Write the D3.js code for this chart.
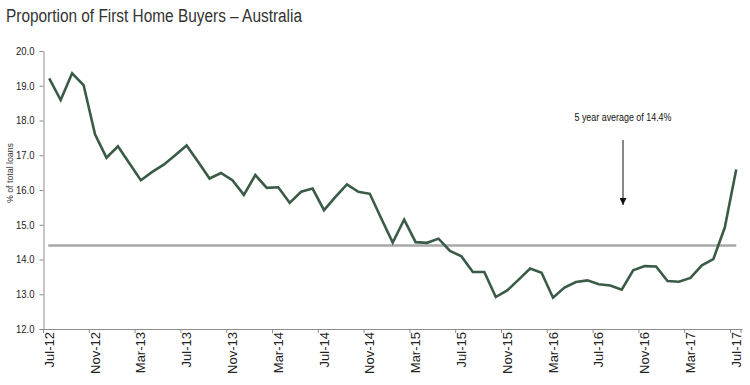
<!DOCTYPE html>
<html>
<head>
<meta charset="utf-8">
<script src="https://cdn.jsdelivr.net/npm/d3@7"></script>
<style>
  body { margin: 0; background: #fff; }
  svg { display: block; }
  text { font-family: "Liberation Sans", Arial, sans-serif; }
</style>
</head>
<body>
<div id="chart"></div>
<script>
const width = 750, height = 385;

// monthly, Jul-12 .. Jul-17
const months = d3.timeMonths(new Date(2012, 6, 1), new Date(2017, 7, 1));
const values = [
  19.21, 18.59, 19.36, 19.02, 17.60, 16.93, 17.26, 16.77, 16.28, 16.52,
  16.73, 17.00, 17.28, 16.81, 16.33, 16.49, 16.28, 15.86, 16.43, 16.06,
  16.08, 15.63, 15.95, 16.04, 15.42, 15.80, 16.16, 15.95, 15.89, 15.18,
  14.49, 15.15, 14.50, 14.48, 14.60, 14.25, 14.09, 13.64, 13.64, 12.92,
  13.11, 13.42, 13.74, 13.62, 12.90, 13.19, 13.35, 13.40, 13.29, 13.25,
  13.13, 13.69, 13.81, 13.80, 13.38, 13.36, 13.47, 13.83, 14.01, 14.92,
  16.59
];
const average = 14.4;
const yTicks = [12, 13, 14, 15, 16, 17, 18, 19, 20];
const fmtMonth = d3.timeFormat("%b-%y");
const labels = months.map(fmtMonth);
const tickLabels = labels.filter((d, i) => i % 4 === 0);

const margin = {top: 51, right: 8, bottom: 56, left: 43.5};

const svg = d3.select("#chart").append("svg")
    .attr("width", width)
    .attr("height", height);

// title (source font is condensed, squeeze to match)
svg.append("text")
    .attr("x", 6)
    .attr("y", 22)
    .attr("font-size", 18)
    .attr("fill", "#333")
    .attr("textLength", 296)
    .attr("lengthAdjust", "spacingAndGlyphs")
    .text("Proportion of First Home Buyers \u2013 Australia");

const x = d3.scaleBand()
    .domain(labels)
    .range([margin.left, margin.left + 11.45 * labels.length]);

const y = d3.scaleLinear()
    .domain([12, 20])
    .range([height - margin.bottom, margin.top]);

const g = svg.append("g");

// y axis
const yAxis = g.append("g")
    .attr("transform", `translate(${margin.left},0)`)
    .call(d3.axisLeft(y).tickValues(yTicks).tickFormat(d3.format(".1f")).tickSize(4).tickSizeOuter(0));
yAxis.select(".domain").attr("stroke", "#8c8c8c");
yAxis.selectAll(".tick line").attr("stroke", "#8c8c8c");
yAxis.selectAll(".tick text")
    .attr("fill", "#222")
    .attr("font-size", 10.5)
    .attr("x", -9)
    .attr("textLength", 18.5)
    .attr("lengthAdjust", "spacingAndGlyphs")
    .attr("font-family", null);

svg.append("text")
    .attr("transform", "translate(13,173) rotate(-90)")
    .attr("text-anchor", "middle")
    .attr("font-size", 9.5)
    .attr("fill", "#333")
    .attr("textLength", 60)
    .attr("lengthAdjust", "spacingAndGlyphs")
    .text("% of total loans");

// x axis
const xAxis = g.append("g")
    .attr("transform", `translate(0,${y(12)})`)
    .call(d3.axisBottom(x).tickValues(tickLabels).tickSize(0).tickSizeOuter(0));
xAxis.select(".domain").attr("stroke", "#8c8c8c");
xAxis.selectAll(".tick text")
    .attr("font-family", null)
    .attr("font-size", 13)
    .attr("fill", "#222")
    .attr("text-anchor", "end")
    .attr("transform", "rotate(-90)")
    .attr("x", -3)
    .attr("y", 0)
    .attr("dy", "0.35em");
xAxis.selectAll(".tick").append("line")
    .attr("x1", -x.bandwidth() / 2)
    .attr("x2", -x.bandwidth() / 2)
    .attr("y1", 0)
    .attr("y2", 4)
    .attr("stroke", "#8c8c8c");
xAxis.append("line")
    .attr("x1", x.range()[1] - 1)
    .attr("x2", x.range()[1] - 1)
    .attr("y1", 0)
    .attr("y2", 4)
    .attr("stroke", "#8c8c8c");

const cx = d => x(d) + x.bandwidth() / 2;

// average line
g.append("line")
    .attr("x1", cx(labels[0]) - 1)
    .attr("x2", cx(labels[labels.length - 1]))
    .attr("y1", y(average))
    .attr("y2", y(average))
    .attr("stroke", "#a8a8a8")
    .attr("stroke-width", 2.5);

// series
const line = d3.line()
    .x((d, i) => cx(labels[i]))
    .y(d => y(d));

g.append("path")
    .datum(values)
    .attr("fill", "none")
    .attr("stroke", "#3a5b45")
    .attr("stroke-width", 2.6)
    .attr("stroke-linejoin", "miter")
    .attr("d", line);

// annotation
const ax = 623;
svg.append("text")
    .attr("x", ax)
    .attr("y", 121)
    .attr("text-anchor", "middle")
    .attr("font-size", 10.5)
    .attr("fill", "#111")
    .attr("textLength", 97)
    .attr("lengthAdjust", "spacingAndGlyphs")
    .text("5 year average of 14.4%");

svg.append("defs").append("marker")
    .attr("id", "arrow")
    .attr("viewBox", "0 0 10 10")
    .attr("refX", 10)
    .attr("refY", 5)
    .attr("markerWidth", 7)
    .attr("markerHeight", 7)
    .attr("markerUnits", "userSpaceOnUse")
    .attr("orient", "auto")
    .append("path")
    .attr("d", "M0,0L10,5L0,10Z")
    .attr("fill", "#111");

svg.append("line")
    .attr("x1", ax)
    .attr("x2", ax)
    .attr("y1", 140)
    .attr("y2", 205)
    .attr("stroke", "#111")
    .attr("stroke-width", 1)
    .attr("marker-end", "url(#arrow)");
</script>
</body>
</html>
